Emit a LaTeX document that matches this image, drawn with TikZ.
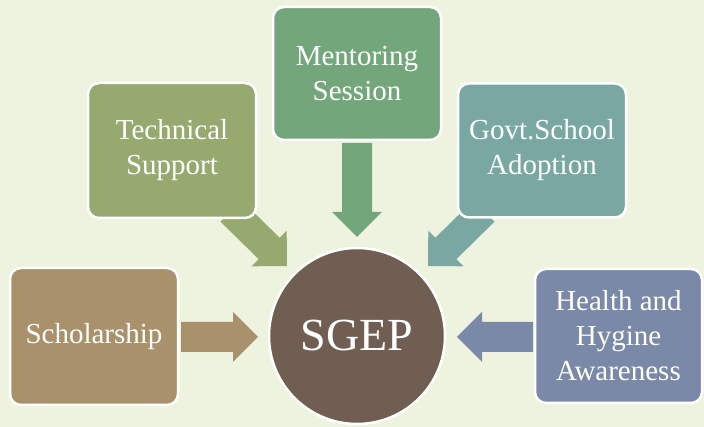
\documentclass[tikz,border=0pt]{standalone}
\usepackage{fontspec}
\setmainfont{Liberation Serif}
\usetikzlibrary{calc}
\definecolor{bg}{RGB}{238,243,223}
\definecolor{cschol}{RGB}{169,146,107}
\definecolor{ctech}{RGB}{150,170,112}
\definecolor{cment}{RGB}{115,166,122}
\definecolor{cgovt}{RGB}{121,168,163}
\definecolor{chealth}{RGB}{123,137,168}
\definecolor{ccircle}{RGB}{111,94,81}
\newcommand{\blockarrow}[3]{%
  \coordinate (#1h) at ($(#2)!25pt!(#1)$);
  \fill[#3] (#2) -- ($(#1h)!25pt!90:(#2)$) -- ($(#1h)!15pt!90:(#2)$)
    -- ($(#1)!15pt!90:(#2)$) -- ($(#1)!15pt!-90:(#2)$)
    -- ($(#1h)!15pt!-90:(#2)$) -- ($(#1h)!25pt!-90:(#2)$) -- cycle;}
\tikzset{
  box/.style={draw=white, line width=2.5pt, rounded corners=11pt,
    minimum width=168pt, minimum height=135pt, text=white, align=center,
    font=\fontsize{29}{35}\selectfont, inner sep=0pt},
  hub/.style={circle, draw=white, line width=2.5pt, fill=ccircle,
    minimum size=176pt, text=white, font=\fontsize{46}{50}\selectfont}
}
\begin{document}
\begin{tikzpicture}[x=1pt,y=1pt]
\fill[bg] (0,0) rectangle (704,427);
\useasboundingbox (0,0) rectangle (704,427);
% arrow endpoints
\coordinate (a1) at (181,90);  \coordinate (t1) at (258,90);
\coordinate (a2) at (231,216); \coordinate (t2) at (287,161);
\coordinate (a3) at (357,284); \coordinate (t3) at (357,190);
\coordinate (a4) at (484,216); \coordinate (t4) at (428,161);
\coordinate (a5) at (533,90);  \coordinate (t5) at (457,90);
\blockarrow{a1}{t1}{cschol}
\blockarrow{a2}{t2}{ctech}
\blockarrow{a3}{t3}{cment}
\blockarrow{a4}{t4}{cgovt}
\blockarrow{a5}{t5}{chealth}
% boxes
\node[box, fill=cschol, minimum height=137pt] (schol) at (94,90.5) {Scholarship};
\node[box, fill=ctech] (tech) at (172,276.5) {Technical\\Support};
\node[box, fill=cment, minimum height=133pt] (ment) at (357,353.5) {Mentoring\\Session};
\node[box, fill=cgovt, minimum height=134pt] (govt) at (542,276.5) {Govt.School\\Adoption};
\node[box, fill=chealth, minimum width=167pt, minimum height=134pt] (health) at (618.5,91) {Health and\\Hygine\\Awareness};
\node[hub] (sgep) at (357,91) {SGEP};
\end{tikzpicture}
\end{document}
